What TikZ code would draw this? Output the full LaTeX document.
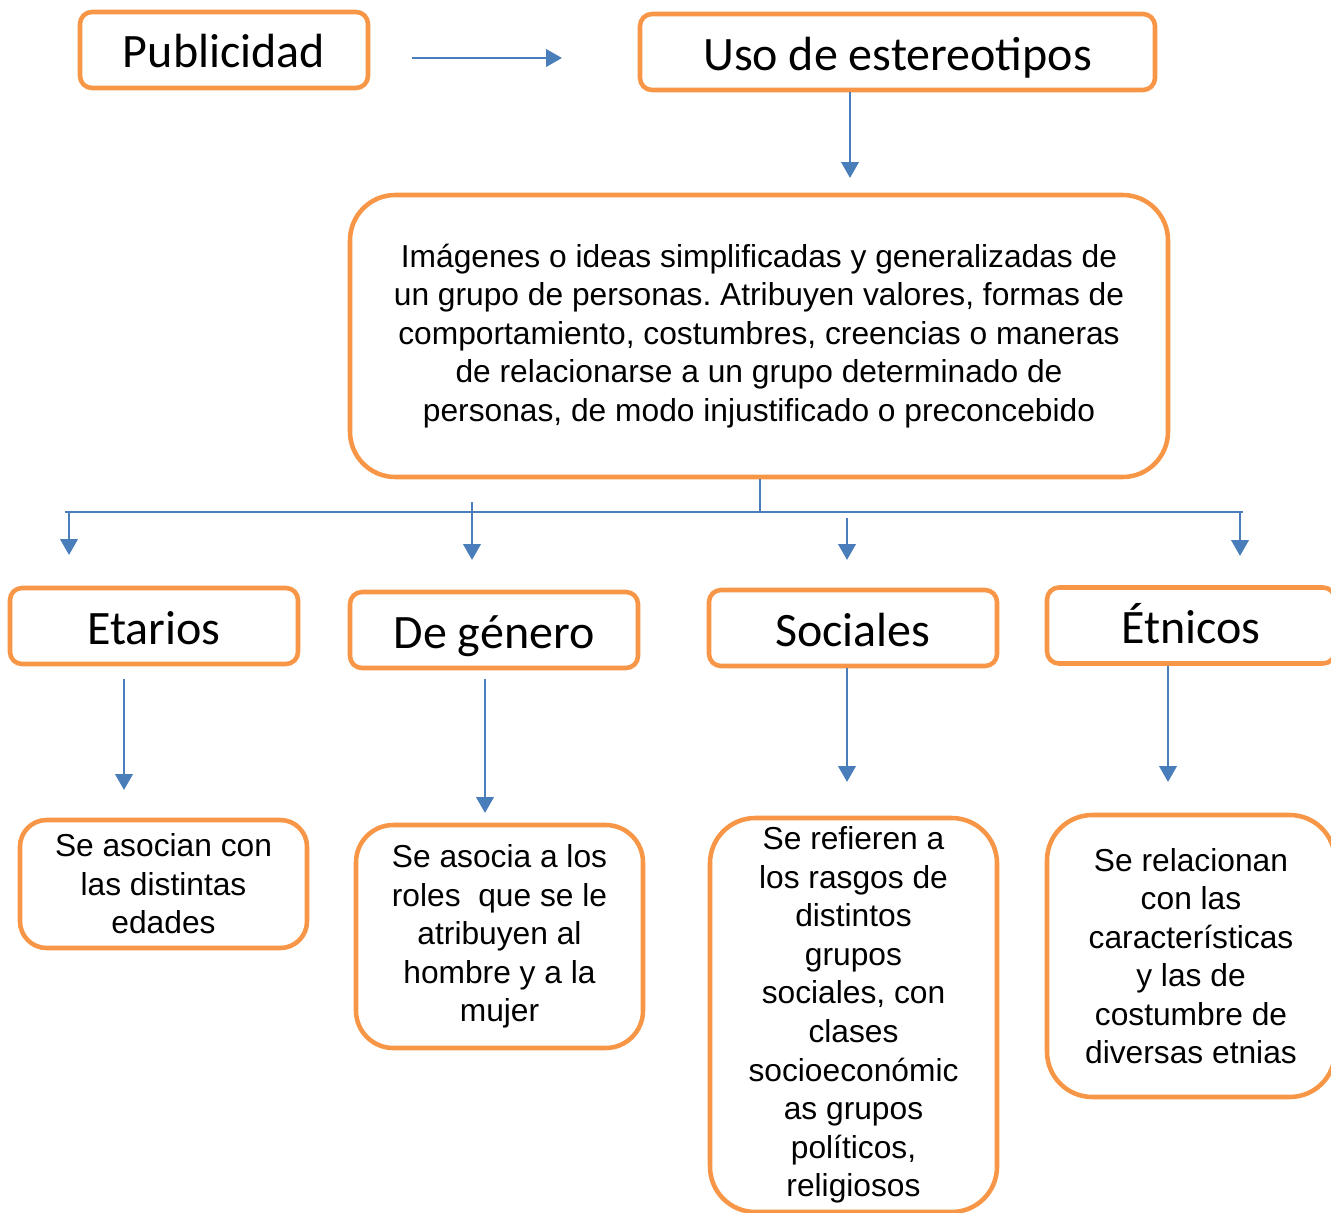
\documentclass[tikz,border=0pt]{standalone}
\usepackage{fontspec}
\setmainfont{Liberation Sans}
\newfontfamily\titlefont{Carlito}
\usetikzlibrary{arrows.meta}
\definecolor{boxorange}{HTML}{F79646}
\definecolor{lineblue}{HTML}{4A7EBB}
\frenchspacing
\begin{document}
\begin{tikzpicture}[x=0.75pt,y=-0.75pt]
\tikzstyle{every node}+=[inner sep=0pt]
\tikzstyle{titlebox}=[draw=boxorange, line width=3.4pt, rounded corners=9pt, minimum width=216pt, minimum height=57pt, text height=27pt, text depth=0pt, font=\titlefont\fontsize{36}{40}\selectfont]
\tikzstyle{textbox}=[draw=boxorange, line width=3.4pt, minimum width=215.25pt, align=center, font=\fontsize{23.8}{28.9}\selectfont]
\tikzstyle{arr}=[draw=lineblue, line width=2.2pt, -{Triangle[length=12pt,width=13pt]}]
\tikzstyle{link}=[draw=lineblue, line width=2pt]
\useasboundingbox (0,0) rectangle (1331,1213);
\node [titlebox] (pub) at (224,50) {Publicidad};
\node [titlebox, minimum width=386.25pt] (uso) at (897.5,52) {Uso de estereotipos};
\node [textbox, minimum width=613.5pt, minimum height=211.5pt, rounded corners=34pt] (def) at (759,336) {Imágenes o ideas simplificadas y generalizadas de\\un grupo de personas. Atribuyen valores, formas de\\comportamiento, costumbres, creencias o maneras\\de relacionarse a un grupo determinado de\\personas, de modo injustificado o preconcebido};
\node [titlebox] (eta) at (154,626) {Etarios};
\node [titlebox] (gen) at (494,630) {De género};
\node [titlebox] (soc) at (853,628) {Sociales};
\node [titlebox, text height=27pt] (etn) at (1191,625.5) {Étnicos};
\node [textbox, minimum height=96pt, rounded corners=20pt] (beta) at (163.5,884) {Se asocian con\\las distintas\\edades};
\node [textbox, minimum height=167.25pt, rounded corners=28pt] (bgen) at (499.5,936.5) {Se asocia a los\\roles\ \ que se le\\atribuyen al\\hombre y a la\\mujer};
\node [textbox, minimum height=295.5pt, rounded corners=34pt] (bsoc) at (853.5,1015) {Se refieren a\\los rasgos de\\distintos\\grupos\\sociales, con\\clases\\socioeconómic\\as grupos\\políticos,\\religiosos};
\node [textbox, minimum width=216pt, minimum height=211.5pt, rounded corners=34pt] (betn) at (1191,956) {Se relacionan\\con las\\características\\y las de\\costumbre de\\diversas etnias};
\coordinate (p1) at (412,58);
\coordinate (p2) at (562,58);
\draw [arr] (p1) -- (p2);
\coordinate (u1) at (850,178);
\draw [arr] (uso.south -| u1) -- (u1);
\coordinate (bus) at (760,512);
\coordinate (busL) at (65,512);
\coordinate (busR) at (1243,512);
\draw [link] (def.south -| bus) -- (bus);
\draw [link] (busL) -- (busR);
\coordinate (a1) at (69,555);
\draw [arr] (a1 |- bus) -- (a1);
\coordinate (a2s) at (472,502);
\coordinate (a2) at (472,560);
\draw [arr] (a2s) -- (a2);
\coordinate (a3s) at (847,518);
\coordinate (a3) at (847,560);
\draw [arr] (a3s) -- (a3);
\coordinate (a4) at (1240,556);
\draw [arr] (a4 |- bus) -- (a4);
\coordinate (b1s) at (124,679);
\coordinate (b1) at (124,790);
\draw [arr] (b1s) -- (b1);
\coordinate (b2s) at (485,679);
\coordinate (b2) at (485,813);
\draw [arr] (b2s) -- (b2);
\coordinate (b3) at (847,782);
\draw [arr] (soc.south -| b3) -- (b3);
\coordinate (b4) at (1168,782);
\draw [arr] (etn.south -| b4) -- (b4);
\end{tikzpicture}
\end{document}
